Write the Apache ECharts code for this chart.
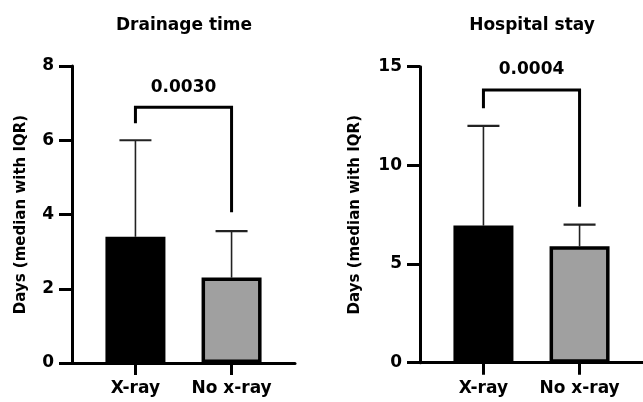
<!DOCTYPE html>
<html>
<head>
<meta charset="utf-8">
<script src="https://cdn.jsdelivr.net/npm/echarts@6/dist/echarts.min.js"></script>
<style>html,body{margin:0;padding:0;background:#fff}#c{width:643px;height:402px}</style>
</head>
<body>
<div id="c"></div>
<script>
// ---- data ----
const categories = ['X-ray', 'No x-ray'];
const titles = ['Drainage time', 'Hospital stay'];
const yName = 'Days (median with IQR)';
const drainageMedian = [3.4, 2.3];
const drainageUpper = [6, 3.55];
const stayMedian = [6.95, 5.9];
const stayUpper = [12, 7];
const drainageTicks = [0, 2, 4, 6, 8];
const stayTicks = [0, 5, 10, 15];
// significance brackets: [yTop, yLeftEnd, yRightEnd]
const drainageBracket = [6.89, 6.46, 4.06];
const stayBracket = [13.82, 12.89, 7.9];
const pValues = ['0.0030', '0.0004'];

const FONT = 'DejaVu Sans';
const barColors = ['#000000', '#a0a0a0'];
const pos = categories.map((c, i) => i + 1);

function barData(med) {
  return med.map((v, i) => ({ value: [pos[i], v], itemStyle: { color: barColors[i] } }));
}
function errData(med, up) {
  return med.map((v, i) => [pos[i], v, up[i]]);
}
function errRender(params, api) {
  const x = api.value(0);
  const p0 = api.coord([x, api.value(1)]);
  const p1 = api.coord([x, api.value(2)]);
  const half = 16;
  return {
    type: 'group',
    children: [
      { type: 'line', shape: { x1: p0[0], y1: p0[1], x2: p1[0], y2: p1[1] }, style: { stroke: '#222', lineWidth: 1.6 } },
      { type: 'line', shape: { x1: p1[0] - half, y1: p1[1], x2: p1[0] + half, y2: p1[1] }, style: { stroke: '#222', lineWidth: 2.2 } }
    ]
  };
}
function bracketRender(params, api) {
  const top = api.value(0), yl = api.value(1), yr = api.value(2);
  const a = api.coord([pos[0], yl]);
  const b = api.coord([pos[0], top]);
  const c = api.coord([pos[1], top]);
  const d = api.coord([pos[1], yr]);
  return {
    type: 'group',
    children: [
      { type: 'polyline', shape: { points: [a, b, c, d] }, style: { stroke: '#000', lineWidth: 3, fill: null } },
      { type: 'text', x: (b[0] + c[0]) / 2, y: b[1] - 20,
        style: { text: pValues[params.seriesIndex === 2 ? 0 : 1], fill: '#000', font: 'bold 17px "' + FONT + '"', align: 'center', verticalAlign: 'middle' } }
    ]
  };
}

const axisLineStyle = { color: '#000', width: 3 };
function xAxis(gi) {
  return {
    type: 'value', gridIndex: gi, min: 0.34, max: 2.66,
    axisLine: { show: true, lineStyle: axisLineStyle },
    axisTick: { show: true, length: 12, lineStyle: { color: '#000', width: 3 }, customValues: pos },
    axisLabel: { show: true, customValues: pos, formatter: v => categories[Math.round(v) - 1], color: '#000',
      fontFamily: FONT, fontWeight: 'bold', fontSize: 17, margin: 17 },
    splitLine: { show: false }
  };
}
function yAxis(gi, ticks, gap) {
  return {
    type: 'value', gridIndex: gi, min: ticks[0], max: ticks[ticks.length - 1], interval: ticks[1] - ticks[0],
    name: yName, nameLocation: 'middle', nameRotate: 90, nameGap: gap,
    nameTextStyle: { color: '#000', fontFamily: FONT, fontWeight: 'bold', fontSize: 15 },
    axisLine: { show: true, lineStyle: axisLineStyle },
    axisTick: { show: true, length: 13, lineStyle: { color: '#000', width: 3 } },
    axisLabel: { color: '#000', fontFamily: FONT, fontWeight: 'bold', fontSize: 17, margin: 18 },
    splitLine: { show: false }
  };
}

const titleStyle = { fontFamily: FONT, fontWeight: 'bold', fontSize: 17, color: '#000' };
const chart = echarts.init(document.getElementById('c'), null, { renderer: 'canvas' });
chart.setOption({
  animation: false,
  backgroundColor: '#fff',
  title: [
    { text: titles[0], left: 184, top: 17, padding: 0, textAlign: 'center', textStyle: titleStyle },
    { text: titles[1], left: 532, top: 17, padding: 0, textAlign: 'center', textStyle: titleStyle }
  ],
  grid: [
    { left: 72, top: 66, width: 223, height: 297 },
    { left: 420, top: 66.7, width: 223, height: 296 }
  ],
  xAxis: [xAxis(0), xAxis(1)],
  yAxis: [yAxis(0, drainageTicks, 43), yAxis(1, stayTicks, 57)],
  series: [
    { type: 'custom', xAxisIndex: 0, yAxisIndex: 0, renderItem: errRender, data: errData(drainageMedian, drainageUpper), z: 1 },
    { type: 'custom', xAxisIndex: 1, yAxisIndex: 1, renderItem: errRender, data: errData(stayMedian, stayUpper), z: 1 },
    { type: 'custom', xAxisIndex: 0, yAxisIndex: 0, renderItem: bracketRender, data: [drainageBracket], z: 3 },
    { type: 'custom', xAxisIndex: 1, yAxisIndex: 1, renderItem: bracketRender, data: [stayBracket], z: 3 },
    { type: 'bar', xAxisIndex: 0, yAxisIndex: 0, barWidth: 60, data: barData(drainageMedian),
      itemStyle: { borderColor: '#000', borderWidth: 3.5 }, z: 2 },
    { type: 'bar', xAxisIndex: 1, yAxisIndex: 1, barWidth: 60, data: barData(stayMedian),
      itemStyle: { borderColor: '#000', borderWidth: 3.5 }, z: 2 }
  ]
});
</script>
</body>
</html>
